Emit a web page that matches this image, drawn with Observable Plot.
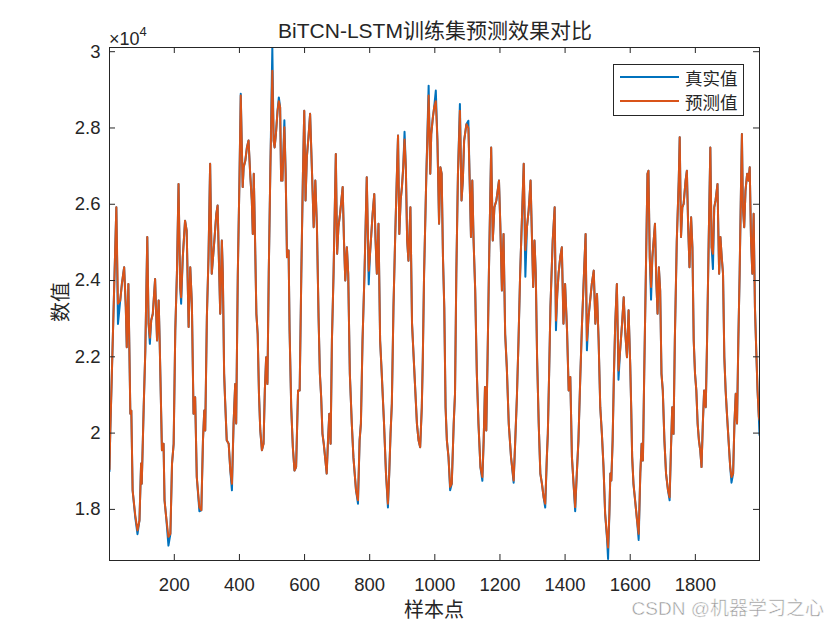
<!DOCTYPE html>
<html><head><meta charset="utf-8">
<script src="https://cdn.jsdelivr.net/npm/d3@7"></script>
<script src="https://cdn.jsdelivr.net/npm/@observablehq/plot@0.6"></script>
<style>
html,body{margin:0;padding:0;background:#fff;}
#chart{position:relative;width:840px;height:630px;}
</style></head><body><div id="chart"></div>
<script>
// sample index (x) of each vertex
const sampleIdx = [1,3,22,27,34,39,46,51,54,59,65,68,72,80,87,93,98,100,106,111,117,121,125,129,134,141,147,152,155,162,167,170,175,182,188,193,198,203,208,213,218,221,226,233,238,244,249,254,259,264,269,277,283,288,292,295,300,305,310,315,323,329,333,336,341,346,349,353,356,361,367,372,377,382,387,390,395,400,404,410,413,418,423,428,433,438,441,444,448,452,456,460,464,469,474,478,482,486,490,495,501,505,508,512,517,521,525,528,532,538,542,546,551,554,559,564,569,574,580,585,590,595,599,603,607,612,617,623,628,633,638,643,647,651,655,659,663,668,672,676,680,684,689,696,700,704,709,713,717,721,725,730,734,739,745,750,758,764,769,773,778,784,791,797,801,805,809,814,818,822,827,832,837,844,850,856,860,864,868,873,878,883,887,891,895,899,903,907,911,915,919,925,930,935,940,945,950,955,960,963,967,974,981,986,989,994,998,1003,1008,1013,1017,1021,1025,1029,1033,1037,1042,1047,1052,1058,1062,1066,1071,1077,1082,1086,1090,1097,1103,1107,1111,1115,1119,1124,1129,1134,1140,1146,1150,1154,1158,1162,1166,1173,1178,1183,1189,1193,1197,1201,1206,1211,1216,1221,1227,1234,1242,1247,1252,1257,1262,1268,1273,1278,1283,1288,1294,1298,1302,1306,1310,1314,1319,1324,1329,1334,1339,1344,1347,1351,1355,1362,1368,1372,1376,1380,1385,1390,1395,1400,1406,1411,1416,1421,1426,1431,1436,1441,1447,1452,1458,1463,1467,1472,1477,1482,1488,1493,1498,1503,1508,1513,1518,1523,1529,1532,1536,1539,1542,1546,1550,1554,1559,1564,1569,1575,1580,1585,1590,1595,1600,1603,1606,1610,1615,1621,1626,1631,1635,1639,1643,1648,1653,1656,1660,1664,1668,1672,1676,1680,1684,1688,1692,1696,1700,1705,1710,1716,1721,1725,1729,1733,1737,1743,1749,1752,1756,1760,1764,1770,1774,1778,1782,1787,1791,1795,1799,1803,1807,1811,1815,1819,1823,1827,1832,1836,1841,1846,1850,1854,1858,1862,1868,1873,1877,1881,1885,1889,1893,1897,1902,1907,1911,1916,1920,1924,1928,1932,1936,1940,1943,1946,1950,1954,1959,1963,1967,1971,1975,1979,1983,1987,1991,1995,1997];

// 真实值 (actual)
const actualVals = [19000,19900,25920,22860,23480,23910,24350,23300,22250,23910,20510,20590,18500,17800,17350,17710,19200,18670,20680,22170,25140,22870,22340,22950,23130,24040,22430,23480,22430,19550,19720,18240,17800,17050,17360,19200,19720,22690,24180,26530,23830,23390,24610,25570,25310,22780,24350,23390,20510,20940,18850,17950,17980,19810,20590,20070,23040,24610,27060,24180,25050,25750,25970,24870,23130,25050,24180,21560,20860,19810,19720,19020,18500,20250,21290,20250,24180,26620,28900,26450,26970,27140,27490,27670,26800,26100,25220,26800,25050,23130,22600,21030,20070,19550,19720,21120,21990,21290,24180,26970,30100,27670,27490,27840,28450,28800,28540,26620,26620,28200,26800,24610,24790,22690,20680,19630,19020,19110,21120,21120,24180,26800,28450,26100,27230,27760,28370,26800,25400,26620,25400,23040,21560,20940,19980,19720,19370,18940,19810,20510,19720,22430,24180,27320,24700,25400,25750,26100,26450,25050,24000,24870,24180,21560,20250,19370,18500,18150,19810,20250,22430,24180,26710,23900,24700,25220,25750,26270,25050,24180,25490,22430,21560,20250,18940,18050,18940,19980,20770,23300,25050,26620,27800,25220,26100,26450,26970,27900,26970,25050,24520,25920,22870,21990,21120,20250,19810,19630,20680,21900,24180,26800,29110,26800,27840,28280,28540,28980,27670,25490,26970,26800,24610,23300,20680,19810,19370,18500,18670,20250,21030,24180,26800,28630,26100,26620,27670,28100,28190,26620,25140,26620,25050,23740,21560,20250,19110,18750,19810,21210,20070,21990,24180,27490,25050,25920,26100,26360,26620,25490,23740,25220,22600,21730,20250,19370,18700,19810,20940,22430,24180,25750,27060,24100,25400,25830,26620,25220,23830,25050,24180,21990,20250,18940,18670,18320,18050,19370,19980,21560,23300,25050,25920,22700,23650,24180,24610,24870,22870,23910,22690,21120,21470,19370,18670,17950,18940,19810,21560,22870,24180,25220,22170,23040,23480,23910,24260,22870,23650,22430,20680,19980,19110,17890,17200,16700,17890,18940,18760,19810,21560,22870,23910,21400,22170,22870,23560,22600,21990,23220,21800,20680,19370,18670,18240,17710,17200,18940,19720,19280,21560,24180,26800,26880,24610,23500,24610,25050,25490,24000,23130,24350,23740,21560,21120,19810,18940,18500,18240,19550,20680,19980,22430,25050,26620,27760,25140,25920,26010,26620,26880,25400,24350,25660,24870,22430,21560,21120,20250,19810,19550,19110,20250,21120,20680,22430,25050,27490,24870,24300,25920,26100,26530,24180,25140,24610,24180,21990,21120,20510,19810,19110,18700,18940,20250,21030,20250,22430,24180,26360,27840,25920,25400,26360,26800,26620,26970,25050,24180,25750,23300,22170,21120,20420,19950];

// 预测值 (predicted)
const predictedVals = [19050,19900,25920,23390,23480,23910,24350,23300,22250,23910,20510,20590,18500,17850,17450,17710,19200,18670,20680,22170,25140,22870,22500,22950,23130,24040,22430,23480,22430,19550,19720,18240,17800,17280,17360,19200,19720,22690,24180,26530,23830,23560,24610,25570,25310,22780,24350,23390,20510,20940,18850,18060,17980,19810,20590,20070,23040,24610,27060,24180,25050,25750,25970,24870,23130,25050,24180,21560,20860,19810,19720,19020,18670,20250,21290,20250,24180,26620,28850,26450,26970,27140,27490,27670,26800,26100,25220,26800,25050,23130,22600,21030,20070,19550,19720,21120,21990,21290,24180,26970,29500,27670,27490,27840,28450,28700,28540,26620,26620,28020,26800,24610,24790,22690,20680,19630,19020,19110,21120,21120,24180,26800,28450,26100,27230,27760,28370,26800,25400,26620,25400,23040,21560,20940,19980,19720,19370,18940,19810,20510,19720,22430,24180,27320,24700,25400,25750,26100,26450,25050,24000,24870,24180,21560,20250,19370,18500,18240,19810,20250,22430,24180,26710,24260,24700,25220,25750,26270,25050,24180,25490,22430,21560,20250,18940,18150,18940,19980,20770,23300,25050,26620,27800,25220,26100,26450,26970,27700,26970,25050,24520,25920,22870,21990,21120,20250,19810,19630,20680,21900,24180,26800,28850,26800,27840,28280,28540,28700,27670,25490,26970,26800,24610,23300,20680,19810,19370,18590,18670,20250,21030,24180,26800,28450,26100,26620,27670,28100,28000,26620,25140,26620,25050,23740,21560,20250,19110,18850,19810,21210,20070,21990,24180,27490,25050,25920,26100,26360,26620,25490,23740,25220,22600,21730,20250,19370,18760,19810,20940,22430,24180,25750,27060,24800,25400,25830,26620,25220,23830,25050,24180,21990,20250,18940,18670,18320,18150,19370,19980,21560,23300,25050,25920,22950,23650,24180,24610,24870,22870,23910,22690,21120,21470,19370,18670,18060,18940,19810,21560,22870,24180,25220,22430,23040,23480,23910,24260,22870,23650,22430,20680,19980,19110,17890,17280,17000,17890,18940,18760,19810,21560,22870,23910,21640,22170,22870,23560,22600,21990,23220,21800,20680,19370,18670,18240,17710,17360,18940,19720,19280,21560,24180,26800,26880,24610,23830,24610,25050,25490,24000,23130,24350,23740,21560,21120,19810,18940,18500,18320,19550,20680,19980,22430,25050,26620,27760,25140,25920,26010,26620,26880,25400,24350,25660,24870,22430,21560,21120,20250,19810,19550,19110,20250,21120,20680,22430,25050,27490,24870,24700,25920,26100,26530,24180,25140,24610,24180,21990,21120,20510,19810,19110,18850,18940,20250,21030,20250,22430,24180,26360,27840,25920,25400,26360,26800,26620,26970,25050,24180,25750,23300,22170,21120,20420,20350];

const seriesNames = ["真实值", "预测值"];
const seriesColors = ["#0072BD", "#D95319"];
const xTicks = [200, 400, 600, 800, 1000, 1200, 1400, 1600, 1800];
const yTicks = [18000, 20000, 22000, 24000, 26000, 28000, 30000];
const xDomain = [1, 1997];
const yDomain = [16660, 30110];
const titleText = "BiTCN-LSTM训练集预测效果对比";
const xLabelText = "样本点";
const yLabelText = "数值";
const watermark = "CSDN @机器学习之心";

const FONT = '"Liberation Sans", Arial, "Noto Sans CJK SC", sans-serif';
const INK = "#262626";

const actualData = sampleIdx.map((x, i) => ({x, y: actualVals[i]}));
const predData = sampleIdx.map((x, i) => ({x, y: predictedVals[i]}));

const W = 840, H = 630, mL = 109, mR = 81, mT = 47, mB = 70;
const pw = W - mL - mR, ph = H - mT - mB;

const svg = Plot.plot({
  width: W, height: H,
  marginLeft: mL, marginRight: mR, marginTop: mT, marginBottom: mB,
  style: {fontFamily: FONT, fontSize: "18.5px", color: INK, background: "#fff", overflow: "visible"},
  x: {domain: xDomain},
  y: {domain: yDomain},
  marks: [
    Plot.line(actualData, {x: "x", y: "y", stroke: seriesColors[0], strokeWidth: 2, clip: true}),
    Plot.line(predData, {x: "x", y: "y", stroke: seriesColors[1], strokeWidth: 2, clip: true}),
    Plot.frame({stroke: INK, strokeWidth: 1}),
    Plot.tickX(xTicks, {x: d => d, insetTop: ph - 6, stroke: INK}),
    Plot.tickX(xTicks, {x: d => d, insetBottom: ph - 6, stroke: INK}),
    Plot.tickY(yTicks, {y: d => d, insetRight: pw - 6, stroke: INK}),
    Plot.tickY(yTicks, {y: d => d, insetLeft: pw - 6, stroke: INK}),
    Plot.axisX({ticks: xTicks, tickSize: 0, tickPadding: 17, label: null, fontSize: 18.5, tickFormat: d => String(d)}),
    Plot.axisY({ticks: yTicks, tickSize: 0, tickPadding: 9, label: null, fontSize: 18.5, tickFormat: d => String(d / 1e4)})
  ]
});
document.getElementById("chart").appendChild(svg);

const s = d3.select(svg);
const g = s.append("g").attr("font-family", FONT).attr("fill", INK);
g.append("text").attr("x", 435).attr("y", 38).attr("text-anchor", "middle")
  .attr("font-size", 21).text(titleText);
const ex = g.append("text").attr("x", 109).attr("y", 45).attr("text-anchor", "start").attr("font-size", 18);
ex.append("tspan").text("×10");
ex.append("tspan").attr("font-size", 13).attr("dy", -9).text("4");
g.append("text").attr("transform", "translate(61,302) rotate(-90)").attr("text-anchor", "middle")
  .attr("dominant-baseline", "central").attr("font-size", 20).text(yLabelText);
g.append("text").attr("x", 434).attr("y", 617).attr("text-anchor", "middle")
  .attr("font-size", 20).text(xLabelText);

// legend
const lg = s.append("g").attr("font-family", FONT);
lg.append("rect").attr("x", 613.5).attr("y", 64.5).attr("width", 130).attr("height", 51)
  .attr("fill", "#fff").attr("stroke", INK).attr("stroke-width", 1);
seriesNames.forEach((name, i) => {
  const yy = 77 + i * 24;
  lg.append("line").attr("x1", 620).attr("x2", 679).attr("y1", yy).attr("y2", yy)
    .attr("stroke", seriesColors[i]).attr("stroke-width", 2);
  lg.append("text").attr("x", 685).attr("y", yy + 2).attr("text-anchor", "start")
    .attr("dominant-baseline", "central")
    .attr("font-size", 17.5).attr("fill", INK).text(name);
});

// watermark
s.append("text").attr("x", 824).attr("y", 615).attr("text-anchor", "end")
  .attr("font-family", FONT).attr("font-size", 19).attr("fill", "#999")
  .attr("stroke", "#fff").attr("stroke-width", 0.5).text(watermark);
</script></body></html>
